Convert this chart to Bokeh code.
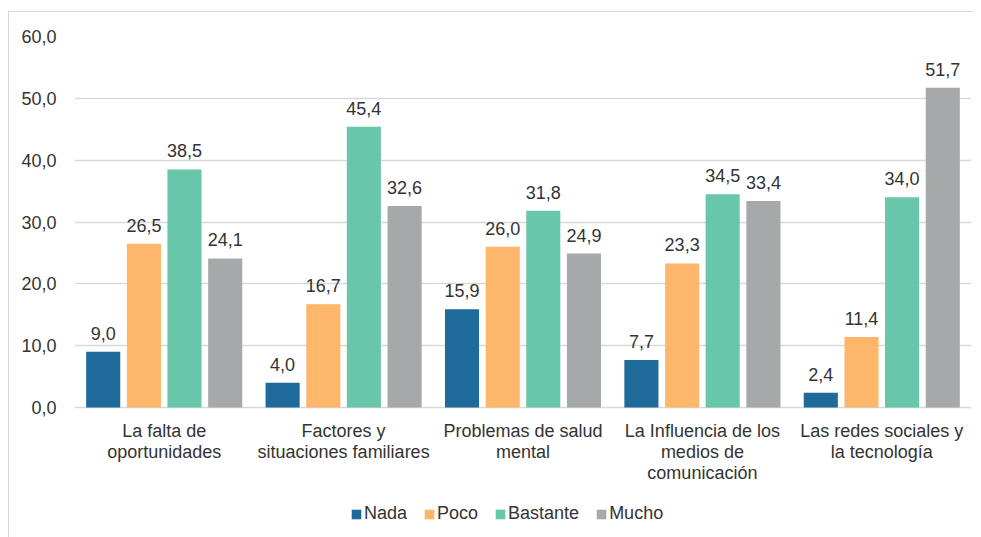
from bokeh.plotting import figure
from bokeh.models import (ColumnDataSource, FactorRange, Range1d, FixedTicker,
                          CustomJSTickFormatter, Legend, LegendItem, LabelSet)
from bokeh.core.properties import value
from bokeh.transform import dodge
from bokeh.embed import file_html
from bokeh.resources import INLINE

categories = ["La falta de\noportunidades",
              "Factores y\nsituaciones familiares",
              "Problemas de salud\nmental",
              "La Influencia de los\nmedios de\ncomunicación",
              "Las redes sociales y\nla tecnología"]
series = ["Nada", "Poco", "Bastante", "Mucho"]
nada = [9.0, 4.0, 15.9, 7.7, 2.4]
poco = [26.5, 16.7, 26.0, 23.3, 11.4]
bastante = [38.5, 45.4, 31.8, 34.5, 34.0]
mucho = [24.1, 32.6, 24.9, 33.4, 51.7]
y_ticks = [0, 10, 20, 30, 40, 50, 60]

colors = ["#1d6a9b", "#fdb66a", "#68c6aa", "#a6a8aa"]
offsets = [-0.34, -0.113, 0.113, 0.34]
values = [nada, poco, bastante, mucho]

FONT = "Liberation Sans"
TXT = "#333333"
FS = "18px"

# frame extends below zero so category labels and legend sit inside it
TOP_PX, ZERO_PX, BOTTOM_PX = 36, 407, 537
Y_MAX = 60
Y_MIN = Y_MAX - (BOTTOM_PX - TOP_PX) * Y_MAX / (ZERO_PX - TOP_PX)

p = figure(x_range=FactorRange(*categories, range_padding=0), y_range=Range1d(Y_MIN, Y_MAX),
           frame_width=897, frame_height=BOTTOM_PX - TOP_PX, output_backend="svg",
           toolbar_location=None, min_border_left=65, min_border_right=2,
           min_border_top=TOP_PX - 12, min_border_bottom=0)
p.outline_line_color = None
p.styles = {"margin-left": "8px", "margin-top": "11px",
            "border-top": "1px solid #d6d6d6", "border-left": "1px solid #d6d6d6"}

data = {"cat": categories, "zero": [0] * len(categories)}
n_lines = max(len(c.split("\n")) for c in categories)
for i in range(n_lines):
    data[f"line{i}"] = [(c.split("\n") + [""] * n_lines)[i] for c in categories]
for s, v in zip(series, values):
    data[s] = v
    data[s + "_lbl"] = [f"{x:.1f}".replace(".", ",") for x in v]
src = ColumnDataSource(data)

items = []
for s, c, o in zip(series, colors, offsets):
    r = p.vbar(x=dodge("cat", o, range=p.x_range), top=s, bottom=0, width=0.19, source=src,
               fill_color=c, line_color=None)
    items.append(LegendItem(label=s, renderers=[r]))
    lbl = LabelSet(x=dodge("cat", o, range=p.x_range), y=s, text=s + "_lbl", source=src,
                   text_align="center", text_baseline="bottom", y_offset=12,
                   text_font=value(FONT), text_font_size=value(FS), text_color=TXT)
    p.add_layout(lbl)

for i in range(n_lines):
    cat_lbl = LabelSet(x="cat", y="zero", text=f"line{i}", source=src, text_align="center",
                       text_baseline="middle", y_offset=-23 - 21 * i,
                       text_font=value(FONT), text_font_size=value(FS), text_color=TXT)
    p.add_layout(cat_lbl)

p.xaxis.visible = False
p.yaxis.ticker = FixedTicker(ticks=y_ticks)
p.yaxis.formatter = CustomJSTickFormatter(code="return tick.toFixed(1).replace('.', ',');")
p.yaxis.axis_line_color = None
p.yaxis.major_tick_line_color = None
p.yaxis.minor_tick_line_color = None
p.yaxis.major_label_text_font = FONT
p.yaxis.major_label_text_font_size = FS
p.yaxis.major_label_text_color = TXT
p.yaxis.major_label_standoff = 12
p.xgrid.grid_line_color = None
p.ygrid.grid_line_color = "#d9d9d9"
p.ygrid.grid_line_width = 1.5

legend = Legend(items=items, orientation="horizontal", location=(276, 13),
                label_text_font=FONT, label_text_font_size=FS, label_text_color=TXT,
                glyph_width=12, glyph_height=12, label_standoff=2, spacing=16,
                border_line_color=None, background_fill_alpha=0, margin=0, padding=0)
p.add_layout(legend)

open("out.html", "w").write(file_html(p, INLINE))
